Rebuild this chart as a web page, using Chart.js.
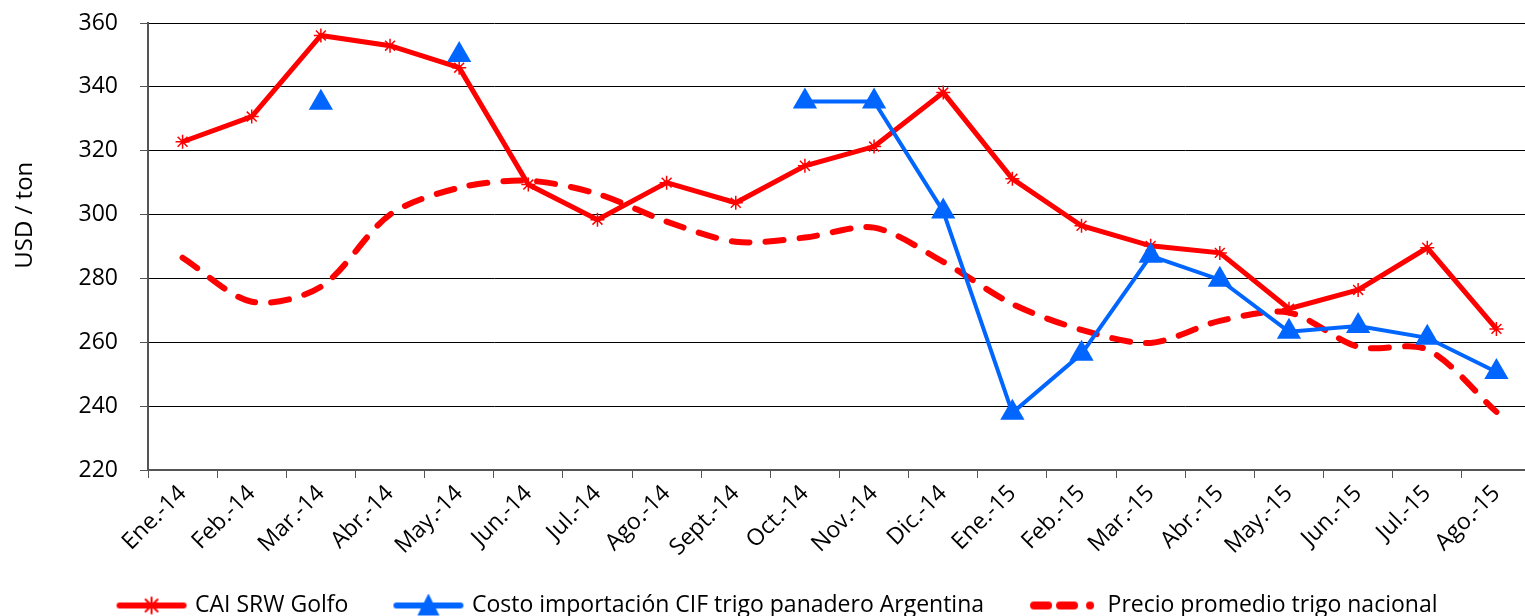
<!DOCTYPE html>
<html>
<head>
<meta charset="utf-8">
<script src="https://cdn.jsdelivr.net/npm/chart.js@4.4.1/dist/chart.umd.min.js"></script>
<style>
  html, body { margin: 0; padding: 0; background: #fff; overflow: hidden; }
  #wrap { width: 1545px; height: 616px; }
</style>
</head>
<body>
<div id="wrap"><canvas id="grafTrigo" width="1545" height="616"></canvas></div>
<script>
// meses
const meses = ["Ene.-14", "Feb.-14", "Mar.-14", "Abr.-14", "May.-14", "Jun.-14", "Jul.-14", "Ago.-14",
    "Sept.-14", "Oct.-14", "Nov.-14", "Dic.-14", "Ene.-15", "Feb.-15", "Mar.-15", "Abr.-15",
    "May.-15", "Jun.-15", "Jul.-15", "Ago.-15"];

// CAI SRW Golfo
const caiSrwGolfo = [322.8, 330.7, 356.1, 352.9, 346.0, 309.4, 298.4, 310.0, 303.7, 315.3,
    321.3, 338.2, 311.2, 296.5, 290.2, 288.0, 270.5, 276.4, 289.6, 264.2];

// Costo importación CIF (huecos = sin dato)
const costoImportacion = [null, null, 335.0, null, 350.0, null, null, null, null, 335.4,
    335.4, 301.0, 237.9, 256.4, 287.1, 279.6, 263.3, 265.1, 261.4, 250.7];

// Precio promedio nacional
const precioNacional = [286.5, 272.7, 277.4, 300.0, 308.4, 310.6, 306.5, 297.8, 291.5, 292.8,
    295.9, 285.2, 272.0, 263.9, 259.8, 266.7, 269.3, 258.6, 257.7, 238.2];

const ticksY = { min: 220, max: 360, paso: 20 };
const tituloY = "USD / ton";

const ROJO = "#ff0000";
const AZUL = "#0066ff";
const FUENTE = "'Open Sans', 'Noto Sans', sans-serif";
const MARGEN = 48; // espacio en blanco antes de cada simbolo de la leyenda

// simbolos de la leyenda (linea + marcador)
function simbolo(tipo) {
    const c = document.createElement("canvas");
    c.width = 72 + MARGEN; c.height = 26;
    const g = c.getContext("2d");
    g.translate(MARGEN, 0);
    const y = 13;
    g.lineCap = "round";
    if (tipo === "estrella") {
        g.strokeStyle = ROJO; g.lineWidth = 6;
        g.beginPath(); g.moveTo(4, y); g.lineTo(68, y); g.stroke();
        g.lineWidth = 2;
        g.beginPath();
        g.moveTo(36, y - 8); g.lineTo(36, y + 8);
        g.moveTo(30, y - 6); g.lineTo(42, y + 6);
        g.moveTo(42, y - 6); g.lineTo(30, y + 6);
        g.stroke();
    } else if (tipo === "triangulo") {
        g.strokeStyle = AZUL; g.lineWidth = 6;
        g.beginPath(); g.moveTo(4, y); g.lineTo(68, y); g.stroke();
        g.fillStyle = AZUL;
        g.beginPath(); g.moveTo(36, 1); g.lineTo(47, 23); g.lineTo(25, 23); g.closePath(); g.fill();
    } else {
        g.strokeStyle = ROJO; g.lineWidth = 8;
        g.beginPath();
        g.moveTo(6, y); g.lineTo(20, y);
        g.moveTo(32, y); g.lineTo(46, y);
        g.stroke();
        g.fillStyle = ROJO;
        g.beginPath(); g.arc(62, y, 4, 0, Math.PI * 2); g.fill();
    }
    return c;
}

const simbolos = [simbolo("estrella"), simbolo("triangulo"), simbolo("guiones")];

// titulo del eje Y, un poco por encima del centro como en el original
// y leyenda corrida un poco a la izquierda
const ajustes = {
    id: "ajustes",
    afterLayout(chart) {
        chart.legend.left -= 16;
        chart.legend.right -= 16;
    },
    afterDraw(chart) {
        const ctx = chart.ctx;
        const area = chart.chartArea;
        ctx.save();
        ctx.translate(25, area.top + (area.bottom - area.top) * 0.43);
        ctx.rotate(-Math.PI / 2);
        ctx.fillStyle = "#000";
        ctx.font = "24px " + FUENTE;
        ctx.textAlign = "center";
        ctx.textBaseline = "middle";
        ctx.fillText(tituloY, 0, 0);
        ctx.restore();
    }
};

const lienzo = document.getElementById("grafTrigo");

new Chart(lienzo, {
    type: "line",
    data: {
        labels: meses,
        datasets: [
            {
                label: "CAI SRW Golfo",
                data: caiSrwGolfo,
                borderColor: ROJO,
                backgroundColor: ROJO,
                borderWidth: 5,
                pointStyle: "star",
                pointRadius: 7,
                pointBorderWidth: 1.5,
                pointBorderColor: ROJO,
                tension: 0,
                order: 2
            },
            {
                label: "Costo importación CIF trigo panadero Argentina",
                data: costoImportacion,
                borderColor: AZUL,
                backgroundColor: AZUL,
                borderWidth: 4,
                pointStyle: "triangle",
                pointRadius: 14,
                pointBorderWidth: 0,
                spanGaps: false,
                tension: 0,
                order: 0
            },
            {
                label: "Precio promedio trigo nacional",
                data: precioNacional,
                borderColor: ROJO,
                backgroundColor: ROJO,
                borderWidth: 6,
                borderDash: [18, 16],
                borderCapStyle: "round",
                borderJoinStyle: "round",
                pointRadius: 0,
                tension: 0.3,
                order: 1
            }
        ]
    },
    plugins: [ajustes],
    options: {
        responsive: false,
        animation: false,
        layout: { padding: { top: 23, right: 4, left: 0, bottom: -11 } },
        plugins: {
            tooltip: { enabled: false },
            legend: {
                position: "bottom",
                labels: {
                    usePointStyle: true,
                    pointStyleWidth: 64 + MARGEN,
                    padding: 0,
                    color: "#000",
                    font: { family: FUENTE, size: 23 },
                    sort: (a, b) => a.datasetIndex - b.datasetIndex,
                    generateLabels: function (chart) {
                        return chart.data.datasets.map((ds, i) => ({
                            text: ds.label,
                            datasetIndex: i,
                            pointStyle: simbolos[i],
                            fillStyle: ds.borderColor,
                            strokeStyle: ds.borderColor,
                            lineWidth: 0,
                            hidden: false,
                            fontColor: "#000"
                        }));
                    }
                }
            }
        },
        scales: {
            x: {
                offset: true,
                grid: {
                    offset: true,
                    drawOnChartArea: false,
                    drawTicks: true,
                    tickLength: 8,
                    color: "#555"
                },
                border: { color: "#555", width: 2 },
                ticks: {
                    color: "#000",
                    font: { family: FUENTE, size: 23 },
                    minRotation: 45,
                    maxRotation: 45,
                    autoSkip: false,
                    padding: 2
                },
                afterFit: function (scale) { scale.height = 124; }
            },
            y: {
                min: ticksY.min,
                max: ticksY.max,
                ticks: {
                    stepSize: ticksY.paso,
                    color: "#000",
                    font: { family: FUENTE, size: 23 },
                    padding: 22
                },
                grid: {
                    color: "#000",
                    lineWidth: 1,
                    drawTicks: true,
                    tickLength: 8,
                    tickColor: "#555"
                },
                border: { color: "#555", width: 2 },
                afterFit: function (scale) {
                    scale.width = 148;
                    scale.paddingTop = 0;
                    scale.paddingBottom = 0;
                }
            }
        }
    }
});
</script>
</body>
</html>
